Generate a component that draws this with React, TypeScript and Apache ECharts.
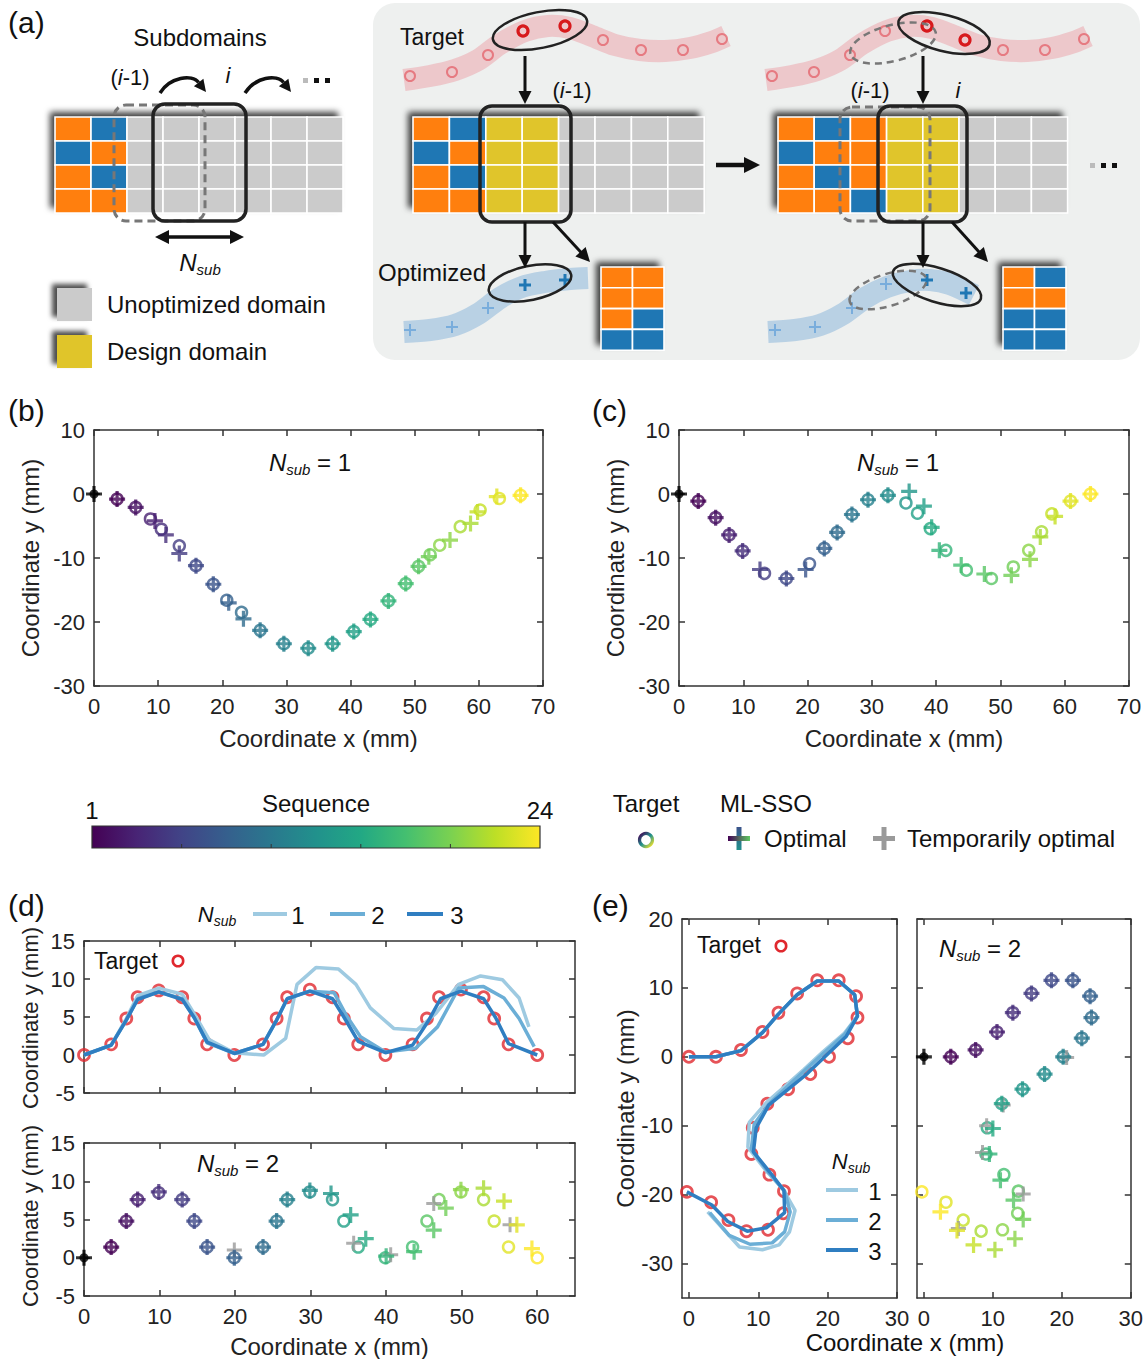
import React, { useEffect, useRef } from 'react';
import * as echarts from 'echarts';

const FONT = '"Liberation Sans", Arial, Helvetica, sans-serif';

// ---------------- DATA ----------------
// (b) N_sub = 1, first path (sequence 1..24, origin separate)
const bTargetX = [3.6, 6.5, 8.8, 10.5, 13.3, 15.9, 18.6, 20.7, 23.0, 25.9, 29.6, 33.4, 37.2, 40.5, 43.1, 45.9, 48.6, 50.6, 52.4, 53.9, 57.1, 60.2, 63.2, 66.5];
const bTargetY = [-0.8, -2.1, -3.9, -5.5, -8.1, -11.2, -14.1, -16.6, -18.5, -21.3, -23.4, -24.1, -23.4, -21.5, -19.6, -16.7, -14.0, -11.3, -9.5, -8.0, -5.1, -2.5, -0.7, -0.2];
const bOptX = [3.6, 6.5, 9.5, 11.2, 13.3, 15.9, 18.6, 21.0, 23.3, 25.9, 29.6, 33.4, 37.2, 40.5, 43.1, 45.9, 48.6, 50.6, 52.2, 55.5, 58.7, 59.8, 62.8, 66.5];
const bOptY = [-0.8, -2.1, -4.2, -6.4, -9.3, -11.2, -14.1, -17.0, -19.5, -21.3, -23.4, -24.1, -23.4, -21.5, -19.6, -16.7, -14.0, -11.3, -9.8, -7.2, -4.6, -2.8, -0.4, -0.2];

// (c) N_sub = 1, second path
const cTargetX = [3.0, 5.7, 7.8, 9.9, 13.3, 16.7, 20.3, 22.6, 24.6, 26.9, 29.4, 32.5, 35.3, 37.1, 39.1, 41.5, 44.7, 48.6, 52.0, 54.4, 56.4, 58.0, 60.9, 64.0];
const cTargetY = [-1.1, -3.7, -6.4, -8.9, -12.4, -13.2, -10.9, -8.5, -6.0, -3.2, -0.9, -0.2, -1.4, -3.0, -5.4, -8.8, -11.9, -13.2, -11.4, -8.8, -5.9, -3.1, -1.1, 0];
const cOptX = [3.0, 5.7, 7.8, 9.9, 12.6, 16.7, 19.7, 22.6, 24.6, 26.9, 29.4, 32.5, 35.8, 38.1, 39.3, 40.5, 43.9, 47.5, 51.7, 54.6, 56.2, 58.5, 60.9, 64.0];
const cOptY = [-1.1, -3.7, -6.4, -8.9, -11.8, -13.2, -11.8, -8.5, -6.0, -3.2, -0.9, -0.2, 0.4, -1.9, -5.2, -8.8, -11.1, -12.5, -12.7, -10.2, -6.7, -3.5, -1.1, 0];

// (d) target (origin included)
const dTargetX = [0, 3.6, 5.6, 7.1, 9.9, 13.0, 14.6, 16.3, 19.9, 23.7, 25.5, 26.9, 29.9, 32.9, 34.4, 36.3, 39.9, 43.5, 45.4, 47.0, 49.9, 52.9, 54.3, 56.2, 60];
const dTargetY = [0, 1.4, 4.8, 7.6, 8.5, 7.6, 4.8, 1.4, 0, 1.4, 4.8, 7.6, 8.6, 7.6, 4.8, 1.4, 0, 1.4, 4.8, 7.6, 8.6, 7.6, 4.8, 1.4, 0];
const dSub1X = [0, 3.6, 5.6, 7.1, 9.9, 13.0, 14.6, 16.6, 19.9, 23.8, 26.7, 28.2, 30.7, 33.7, 36.0, 37.9, 41.0, 44.1, 46.6, 49.6, 52.5, 55.4, 57.6, 58.9];
const dSub1Y = [0, 1.3, 4.8, 7.8, 8.8, 8.0, 5.4, 2.0, 0.3, 0.0, 2.2, 9.3, 11.5, 11.3, 9.3, 6.2, 3.5, 3.3, 5.5, 9.3, 10.4, 9.9, 7.5, 3.7];
const dSub2X = [0, 3.6, 5.6, 7.1, 9.9, 13.0, 14.6, 16.3, 19.9, 23.7, 25.5, 26.9, 29.9, 33.1, 34.8, 36.6, 39.9, 43.9, 46.8, 49.6, 52.9, 55.6, 57.6, 59.6];
const dSub2Y = [0, 1.3, 4.6, 7.4, 8.3, 7.4, 4.9, 1.6, 0.2, 1.4, 4.6, 7.4, 8.4, 8.2, 5.1, 2.4, 0.4, 0.9, 3.7, 8.8, 9.0, 7.5, 4.8, 1.1];
const dSub3X = [0, 3.6, 5.6, 7.1, 9.9, 13.0, 14.6, 16.3, 19.9, 23.7, 25.5, 26.9, 29.9, 32.9, 34.4, 36.3, 39.9, 43.5, 45.6, 47.2, 49.9, 52.9, 54.5, 56.2, 60];
const dSub3Y = [0, 1.3, 4.6, 7.3, 8.3, 7.3, 4.9, 1.7, 0.2, 1.4, 4.6, 7.4, 8.4, 7.4, 5.0, 1.8, 0.3, 1.3, 4.5, 7.4, 8.4, 7.4, 4.9, 1.5, 0];
const dOptX = [3.6, 5.6, 7.1, 9.9, 13.0, 14.6, 16.3, 19.9, 23.7, 25.5, 26.9, 29.9, 32.7, 35.3, 37.3, 40.0, 43.7, 46.3, 47.9, 49.9, 52.9, 55.6, 57.3, 59.3];
const dOptY = [1.4, 4.8, 7.6, 8.6, 7.6, 4.8, 1.4, 0, 1.4, 4.8, 7.6, 8.8, 8.4, 5.6, 2.5, 0.2, 0.8, 3.6, 6.5, 8.9, 9.1, 7.4, 4.3, 1.2];
const dTempX = [19.9, 35.7, 40.6, 46.3, 56.4];
const dTempY = [1.0, 1.9, 0.4, 7.1, 4.3];

// (e) target (origin included)
const eTargetX = [0, 3.9, 7.5, 10.6, 12.9, 15.6, 18.5, 21.6, 24.1, 24.3, 22.9, 20.2, 17.5, 14.3, 11.3, 9.2, 9.0, 11.6, 13.7, 13.6, 11.4, 8.3, 5.7, 3.2, -0.3];
const eTargetY = [0, 0, 1.0, 3.6, 6.4, 9.2, 11.1, 11.1, 8.8, 5.7, 2.7, 0, -2.5, -4.7, -6.8, -10.3, -14.1, -17.1, -19.5, -22.7, -25.1, -25.3, -23.7, -21.1, -19.6];
const eSub1X = [0, 3.9, 7.5, 10.6, 12.9, 15.6, 18.5, 21.6, 23.9, 24.3, 22.4, 19.4, 16.6, 13.8, 11.2, 8.7, 8.5, 11.1, 13.5, 15.3, 14.5, 13.0, 10.6, 7.3, 2.7];
const eSub1Y = [0, 0, 0.9, 3.5, 6.2, 9.0, 11.0, 11.0, 9.0, 5.9, 3.4, 0.8, -1.8, -4.3, -6.6, -9.5, -13.1, -16.5, -19.1, -22.3, -25.4, -27.3, -28.0, -27.6, -22.5];
const eSub2X = [0, 3.9, 7.5, 10.6, 12.9, 15.6, 18.5, 21.6, 23.9, 24.3, 22.5, 19.6, 16.8, 14.0, 11.5, 9.4, 9.0, 11.5, 13.8, 14.6, 13.8, 12.0, 8.8, 5.8, 3.0];
const eSub2Y = [0, 0, 0.9, 3.5, 6.2, 9.0, 11.0, 11.0, 9.0, 5.9, 3.3, 0.7, -1.9, -4.5, -6.9, -9.8, -13.4, -16.8, -19.5, -22.5, -25.4, -27.0, -27.2, -25.9, -22.6];
const eSub3X = [0, 3.9, 7.5, 10.6, 12.9, 15.6, 18.5, 21.6, 23.9, 24.3, 22.7, 19.9, 17.1, 14.2, 11.5, 9.7, 9.3, 11.8, 13.7, 13.8, 11.2, 8.4, 5.6, 3.3, -0.3];
const eSub3Y = [0, 0, 0.9, 3.5, 6.2, 9.0, 11.0, 11.0, 9.0, 5.9, 3.0, 0.3, -2.4, -4.8, -7.0, -10.3, -13.8, -16.9, -19.4, -22.6, -24.8, -25.3, -23.9, -21.5, -19.6];
const eOptX = [3.9, 7.5, 10.6, 12.9, 15.6, 18.5, 21.6, 24.1, 24.3, 22.9, 20.2, 17.5, 14.3, 11.3, 10.0, 9.5, 11.1, 13.0, 14.4, 13.2, 10.3, 7.2, 4.8, 2.4];
const eOptY = [0, 1.0, 3.6, 6.4, 9.2, 11.1, 11.1, 8.8, 5.7, 2.7, 0, -2.5, -4.7, -6.8, -10.4, -14.1, -17.9, -20.8, -23.6, -26.4, -28.0, -27.3, -25.2, -22.5];
const eTempX = [20.7, 9.1, 8.5, 14.4, 5.0, 11.5];
const eTempY = [-0.1, -10.0, -13.9, -19.9, -24.9, -7.0];

// tick labels
const ticksX70 = [0, 10, 20, 30, 40, 50, 60, 70];
const ticksY30 = [-30, -20, -10, 0, 10];
const ticksX60 = [0, 10, 20, 30, 40, 50, 60];
const ticksY15 = [-5, 0, 5, 10, 15];
const ticksX30 = [0, 10, 20, 30];
const ticksY20 = [-30, -20, -10, 0, 10, 20];
const seqRange = ['1', '24'];
const subLabels = ['1', '2', '3'];

// ---------------- STYLE ----------------
const VIR = ['#440154', '#482475', '#414487', '#355f8d', '#2a788e', '#21918c', '#22a884', '#44bf70', '#7ad151', '#bddf26', '#fde725'];
const SUB_COLORS = ['#9ecae1', '#6baed6', '#2f7ec1'];
const RED = '#e0282e';
const GRAYP = '#9a9a9a';
const PLUS = 'path://M4,0H6V4H10V6H6V10H4V6H0V4H4Z';
const O = '#ff7f0e', B = '#1f77b4', G = '#cbcbcb', Y = '#e0c52b';

function hexToRgb(h: string) {
  const n = parseInt(h.slice(1), 16);
  return [(n >> 16) & 255, (n >> 8) & 255, n & 255];
}
function viridis(t: number) {
  const n = VIR.length - 1;
  const f = Math.max(0, Math.min(1, t)) * n;
  const i = Math.min(Math.floor(f), n - 1);
  const u = f - i;
  const a = hexToRgb(VIR[i]), b = hexToRgb(VIR[i + 1]);
  const c = a.map((v, k) => Math.round(v + (b[k] - v) * u));
  return `rgb(${c[0]},${c[1]},${c[2]})`;
}
const seqColor = (k: number) => viridis((k - 1) / 23);

// ---------------- HELPERS ----------------
function ringSeries(g: number, xs: number[], ys: number[], colorFn: (i: number) => string, size = 10, width = 2.5, z = 3) {
  return {
    type: 'scatter', xAxisIndex: 2 * g, yAxisIndex: 2 * g, symbol: 'circle', symbolSize: size, clip: false, silent: true, z,
    data: xs.map((x, i) => ({ value: [x, ys[i]], itemStyle: { color: 'rgba(255,255,255,0)', borderColor: colorFn(i), borderWidth: width } })),
  };
}
function plusSeries(g: number, xs: number[], ys: number[], colorFn: (i: number) => string, size = 15, z = 4) {
  return {
    type: 'scatter', xAxisIndex: 2 * g, yAxisIndex: 2 * g, symbol: PLUS, symbolSize: size, clip: false, silent: true, z,
    data: xs.map((x, i) => ({ value: [x, ys[i]], itemStyle: { color: colorFn(i) } })),
  };
}
function lineSeries(g: number, xs: number[], ys: number[], color: string, width = 3.5, z = 5) {
  return {
    type: 'line', xAxisIndex: 2 * g, yAxisIndex: 2 * g, showSymbol: false, silent: true, z, clip: false,
    lineStyle: { color, width }, data: xs.map((x, i) => [x, ys[i]]),
  };
}
function originSeries(g: number) {
  return [
    { type: 'scatter', xAxisIndex: 2 * g, yAxisIndex: 2 * g, symbol: 'circle', symbolSize: 9, clip: false, silent: true, z: 6, itemStyle: { color: '#000' }, data: [[0, 0]] },
    { type: 'scatter', xAxisIndex: 2 * g, yAxisIndex: 2 * g, symbol: PLUS, symbolSize: 16, clip: false, silent: true, z: 6, itemStyle: { color: '#000' }, data: [[0, 0]] },
  ];
}

function txt(x: number, y: number, text: string, size = 24, align = 'left', extra: any = {}) {
  return { type: 'text', x, y, silent: true, style: { text, fontSize: size, fontFamily: FONT, fill: '#111', align, verticalAlign: 'middle', ...extra } };
}
function vtxt(x: number, y: number, text: string, size = 24) {
  return { type: 'text', x, y, rotation: Math.PI / 2, silent: true, style: { text, fontSize: size, fontFamily: FONT, fill: '#222', align: 'center', verticalAlign: 'middle' } };
}
function nsub(x: number, y: number, suffix: string, size = 24, align = 'center') {
  const rich: any = {
    n: { fontSize: size, fontStyle: 'italic', fontFamily: FONT, fill: '#111', lineHeight: size * 1.25, verticalAlign: 'middle' },
    s: { fontSize: Math.round(size * 0.64), fontStyle: 'italic', fontFamily: FONT, fill: '#111', lineHeight: Math.round(size * 0.7), verticalAlign: 'bottom' },
    t: { fontSize: size, fontFamily: FONT, fill: '#111', lineHeight: size * 1.25, verticalAlign: 'middle' },
  };
  return { type: 'text', x, y, silent: true, style: { text: '{n|N}{s|sub}' + (suffix ? '{t|' + suffix + '}' : ''), rich, align, verticalAlign: 'middle', fontFamily: FONT, fontSize: size } };
}
function iLabel(x: number, y: number, withParen: boolean, size = 22) {
  const rich: any = {
    p: { fontSize: size, fontFamily: FONT, fill: '#111' },
    i: { fontSize: size, fontFamily: FONT, fill: '#111', fontStyle: 'italic' },
  };
  return { type: 'text', x, y, silent: true, style: { text: withParen ? '{p|(}{i|i}{p|-1)}' : '{i|i}', rich, align: 'center', verticalAlign: 'middle', fontSize: size, fontFamily: FONT } };
}
function head(x2: number, y2: number, a: number, h = 13, color = '#111') {
  const hx = x2 - h * Math.cos(a), hy = y2 - h * Math.sin(a);
  const s = h * 0.5;
  return { type: 'polygon', silent: true, shape: { points: [[x2, y2], [hx + s * Math.sin(a), hy - s * Math.cos(a)], [hx - s * Math.sin(a), hy + s * Math.cos(a)]] }, style: { fill: color } };
}
function arrow(x1: number, y1: number, x2: number, y2: number, w = 3, h = 13, color = '#111') {
  const a = Math.atan2(y2 - y1, x2 - x1);
  const hx = x2 - h * Math.cos(a), hy = y2 - h * Math.sin(a);
  return [
    { type: 'line', silent: true, shape: { x1, y1, x2: hx + Math.cos(a) * 2, y2: hy + Math.sin(a) * 2 }, style: { stroke: color, lineWidth: w } },
    head(x2, y2, a, h, color),
  ];
}
function doubleArrow(x1: number, x2: number, y: number, w = 3.5, h = 14) {
  return [
    { type: 'line', silent: true, shape: { x1: x1 + h - 2, y1: y, x2: x2 - h + 2, y2: y }, style: { stroke: '#111', lineWidth: w } },
    head(x2, y, 0, h),
    head(x1, y, Math.PI, h),
  ];
}
function curvedArrow(x1: number, y1: number, x2: number, y2: number) {
  const cp1 = [x1 + 10, y1 - 16], cp2 = [x2 - 14, y2 - 18];
  const a = Math.atan2(y2 - cp2[1], x2 - cp2[0]);
  const h = 12;
  const hx = x2 - h * Math.cos(a), hy = y2 - h * Math.sin(a);
  return [
    { type: 'bezierCurve', silent: true, shape: { x1, y1, x2: hx, y2: hy, cpx1: cp1[0], cpy1: cp1[1], cpx2: cp2[0], cpy2: cp2[1] }, style: { stroke: '#111', lineWidth: 3.5, fill: 'none' } },
    head(x2, y2, a, h),
  ];
}
function cellGrid(x0: number, y0: number, cols: string[][], cw: number, ch: number) {
  const els: any[] = [];
  const w = cols.length * cw, h = cols[0].length * ch;
  els.push({ type: 'rect', silent: true, shape: { x: x0, y: y0, width: w, height: h }, style: { fill: '#666', shadowBlur: 6, shadowColor: 'rgba(0,0,0,0.75)', shadowOffsetX: -5, shadowOffsetY: -5 } });
  cols.forEach((col, ci) => col.forEach((c, ri) => {
    els.push({ type: 'rect', silent: true, shape: { x: x0 + ci * cw, y: y0 + ri * ch, width: cw, height: ch }, style: { fill: c, stroke: '#fff', lineWidth: 1.6 } });
  }));
  return els;
}
function rrect(x: number, y: number, w: number, h: number, dashed: boolean) {
  return { type: 'rect', silent: true, shape: { x, y, width: w, height: h, r: 12 }, style: dashed ? { fill: 'none', stroke: '#777', lineWidth: 3, lineDash: [8, 5] } : { fill: 'none', stroke: '#222', lineWidth: 3.5 } };
}
function ell(cx: number, cy: number, rx: number, ry: number, rot: number, dashed: boolean) {
  return { type: 'ellipse', silent: true, x: cx, y: cy, rotation: rot, shape: { cx: 0, cy: 0, rx, ry }, style: dashed ? { fill: 'none', stroke: '#777', lineWidth: 2.5, lineDash: [7, 5] } : { fill: 'none', stroke: '#222', lineWidth: 2.5 } };
}
function gplus(x: number, y: number, s: number, color: string, w = 2.5) {
  return [
    { type: 'line', silent: true, shape: { x1: x - s, y1: y, x2: x + s, y2: y }, style: { stroke: color, lineWidth: w } },
    { type: 'line', silent: true, shape: { x1: x, y1: y - s, x2: x, y2: y + s }, style: { stroke: color, lineWidth: w } },
  ];
}
function dots(x: number, y: number) {
  return [0, 1, 2].map((k) => ({ type: 'rect', silent: true, shape: { x: x + k * 11, y: y - 2, width: 5, height: 5 }, style: { fill: k === 0 ? '#bbb' : '#111' } }));
}

function buildGraphic() {
  const els: any[] = [];
  const G4 = [G, G, G, G], Y4 = [Y, Y, Y, Y];
  // ---- panel (a), left
  els.push(txt(8, 22, '(a)', 30));
  els.push(txt(200, 37, 'Subdomains', 24, 'center'));
  els.push(iLabel(130, 77, true));
  els.push(iLabel(228, 75, false));
  els.push(...curvedArrow(160, 93, 206, 92));
  els.push(...curvedArrow(245, 93, 291, 92));
  els.push(...dots(303, 80));
  els.push(...cellGrid(55, 117, [[O, B, O, O], [B, O, B, O], G4, G4, G4, G4, G4, G4], 36, 24));
  els.push(rrect(114, 105, 91, 116, true));
  els.push(rrect(153, 104, 93, 117, false));
  els.push(...doubleArrow(155, 244, 237));
  els.push(nsub(200, 262, '', 24));
  els.push({ type: 'rect', silent: true, shape: { x: 57, y: 288, width: 35, height: 33 }, style: { fill: G, shadowBlur: 5, shadowColor: 'rgba(0,0,0,0.7)', shadowOffsetX: -5, shadowOffsetY: -4 } });
  els.push({ type: 'rect', silent: true, shape: { x: 57, y: 335, width: 35, height: 33 }, style: { fill: Y, shadowBlur: 5, shadowColor: 'rgba(0,0,0,0.7)', shadowOffsetX: -5, shadowOffsetY: -4 } });
  els.push(txt(107, 304, 'Unoptimized domain', 24));
  els.push(txt(107, 351, 'Design domain', 24));

  // ---- panel (a), right
  els.push({ type: 'rect', silent: true, shape: { x: 373, y: 3, width: 767, height: 357, r: 22 }, style: { fill: '#eef0ef' } });
  els.push(txt(400, 37, 'Target', 23));
  els.push(txt(378, 272, 'Optimized', 24));
  const pink = [[404, 80], [430, 76], [455, 70], [478, 60], [500, 44], [525, 31], [548, 26], [570, 28], [592, 36], [615, 45], [640, 50], [665, 51], [690, 48], [712, 42], [726, 36]];
  const pinkC = [[410, 76], [452, 72], [488, 55], [523, 31], [565, 26], [603, 40], [641, 50], [683, 50], [722, 39]];
  const blue1 = [[404, 332], [430, 330], [455, 325], [478, 314], [500, 298], [522, 287], [545, 282], [570, 279], [588, 278]];
  const blue2 = [[768, 332], [795, 330], [820, 325], [843, 314], [865, 298], [887, 287], [910, 281], [930, 280], [950, 284], [974, 295]];
  [0, 362].forEach((dx, k) => {
    els.push({ type: 'polyline', silent: true, shape: { points: pink.map((p) => [p[0] + dx, p[1]]), smooth: 0.3 }, style: { stroke: 'rgba(236,150,160,0.45)', lineWidth: 22, fill: 'none' } });
    pinkC.forEach((p, i) => {
      const bold = k === 0 ? (i === 3 || i === 4) : (i === 4 || i === 5);
      els.push({ type: 'circle', silent: true, shape: { cx: p[0] + dx, cy: p[1], r: 5 }, style: { fill: 'none', stroke: bold ? '#d7191c' : 'rgba(225,70,80,0.6)', lineWidth: bold ? 3.2 : 2 } });
    });
  });
  els.push(ell(540, 30, 48, 18, 0.2, false));
  els.push(ell(893, 43, 44, 18, 0.25, true));
  els.push(ell(944, 33, 47, 18, -0.25, false));
  els.push({ type: 'polyline', silent: true, shape: { points: blue1, smooth: 0.3 }, style: { stroke: 'rgba(120,170,215,0.45)', lineWidth: 22, fill: 'none' } });
  els.push({ type: 'polyline', silent: true, shape: { points: blue2, smooth: 0.3 }, style: { stroke: 'rgba(120,170,215,0.45)', lineWidth: 22, fill: 'none' } });
  [[410, 330], [452, 327], [488, 308], [775, 330], [815, 327], [852, 308], [886, 284]].forEach((p) => els.push(...gplus(p[0], p[1], 6, '#79addc', 2)));
  [[525, 285], [565, 280], [927, 280], [966, 293]].forEach((p) => els.push(...gplus(p[0], p[1], 6, '#1f77b4', 3)));
  els.push(ell(530, 283, 42, 17, 0.2, false));
  els.push(ell(888, 290, 40, 16, 0.3, true));
  els.push(ell(937, 285, 46, 17, -0.3, false));
  // arrows
  els.push(...arrow(525, 56, 525, 104, 3, 13));
  els.push(...arrow(923, 56, 923, 104, 3, 13));
  els.push(iLabel(572, 90, true));
  els.push(iLabel(870, 90, true));
  els.push(iLabel(958, 90, false));
  // grids
  els.push(...cellGrid(413, 117, [[O, B, O, O], [B, O, B, O], Y4, Y4, G4, G4, G4, G4], 36.4, 24));
  els.push(rrect(480, 106, 91, 116, false));
  els.push(...cellGrid(778, 117, [[O, B, O, O], [B, O, B, O], [O, O, O, B], Y4, Y4, G4, G4, G4], 36.2, 24));
  els.push(rrect(840, 107, 90, 114, true));
  els.push(rrect(878, 106, 89, 116, false));
  els.push(...arrow(525, 222, 525, 268, 3, 13));
  els.push(...arrow(553, 222, 590, 262, 3, 14));
  els.push(...arrow(923, 222, 923, 268, 3, 13));
  els.push(...arrow(952, 222, 988, 262, 3, 14));
  els.push(...arrow(716, 165, 760, 165, 4.5, 16));
  els.push(...cellGrid(601, 267, [[O, O, O, B], [O, O, B, B]], 31.5, 20.8));
  els.push(...cellGrid(1003, 267, [[O, O, B, B], [B, O, B, B]], 31.5, 20.8));
  els.push(...dots(1090, 165));

  // ---- panel labels
  els.push(txt(8, 410, '(b)', 30));
  els.push(txt(592, 410, '(c)', 30));
  els.push(txt(8, 905, '(d)', 30));
  els.push(txt(592, 905, '(e)', 30));
  els.push(nsub(310, 462, ' = 1', 24));
  els.push(nsub(898, 462, ' = 1', 24));
  els.push(nsub(238, 1163, ' = 2', 24));
  els.push(nsub(980, 948, ' = 2', 24));
  els.push(vtxt(30, 1018, 'Coordinate y (mm)', 22));
  els.push(vtxt(30, 1216, 'Coordinate y (mm)', 22));

  // ---- colour bar legend
  const stops = VIR.map((c, i) => ({ offset: i / (VIR.length - 1), color: c }));
  els.push({ type: 'rect', silent: true, shape: { x: 92, y: 826, width: 448, height: 22 }, style: { fill: { type: 'linear', x: 0, y: 0, x2: 1, y2: 0, colorStops: stops }, stroke: '#333', lineWidth: 1.2 } });
  [1, 2, 3, 4].forEach((k) => els.push({ type: 'line', silent: true, shape: { x1: 92 + 448 * k / 5, y1: 844, x2: 92 + 448 * k / 5, y2: 848 }, style: { stroke: '#333', lineWidth: 1 } }));
  els.push(txt(92, 810, seqRange[0], 24, 'center'));
  els.push(txt(540, 810, seqRange[1], 24, 'center'));
  els.push(txt(316, 803, 'Sequence', 24, 'center'));
  els.push(txt(646, 803, 'Target', 24, 'center'));
  els.push({ type: 'circle', silent: true, shape: { cx: 646, cy: 840, r: 6.5 }, style: { fill: 'none', lineWidth: 3.2, stroke: { type: 'linear', x: 0, y: 0, x2: 1, y2: 1, colorStops: [{ offset: 0, color: '#440154' }, { offset: 0.5, color: '#21918c' }, { offset: 1, color: '#fde725' }] } } });
  els.push(txt(720, 803, 'ML-SSO', 24));
  els.push({ type: 'rect', silent: true, shape: { x: 736.5, y: 827, width: 5, height: 23 }, style: { fill: { type: 'linear', x: 0, y: 0, x2: 0, y2: 1, colorStops: [{ offset: 0, color: '#3b528b' }, { offset: 1, color: '#21918c' }] } } });
  els.push({ type: 'rect', silent: true, shape: { x: 728, y: 836, width: 22, height: 5 }, style: { fill: { type: 'linear', x: 0, y: 0, x2: 1, y2: 0, colorStops: [{ offset: 0, color: '#440154' }, { offset: 1, color: '#5ec962' }] } } });
  els.push(txt(764, 838, 'Optimal', 24));
  els.push({ type: 'rect', silent: true, shape: { x: 881.5, y: 827, width: 5, height: 23 }, style: { fill: GRAYP } });
  els.push({ type: 'rect', silent: true, shape: { x: 873, y: 836, width: 22, height: 5 }, style: { fill: GRAYP } });
  els.push(txt(907, 838, 'Temporarily optimal', 24));

  // ---- (d) legend
  els.push(nsub(217, 914, '', 22));
  [[253, 287, 298], [330, 365, 378], [407, 443, 457]].forEach((p, i) => {
    els.push({ type: 'line', silent: true, shape: { x1: p[0], y1: 914, x2: p[1], y2: 914 }, style: { stroke: SUB_COLORS[i], lineWidth: 4 } });
    els.push(txt(p[2], 915, subLabels[i], 24, 'center'));
  });
  els.push(txt(94, 961, 'Target', 23));
  els.push({ type: 'circle', silent: true, shape: { cx: 178, cy: 961, r: 5.2 }, style: { fill: 'none', stroke: RED, lineWidth: 2.6 } });

  // ---- (e) legends
  els.push(txt(697, 945, 'Target', 23));
  els.push({ type: 'circle', silent: true, shape: { cx: 781, cy: 946, r: 5.2 }, style: { fill: 'none', stroke: RED, lineWidth: 2.6 } });
  els.push(nsub(851, 1161, '', 22));
  [1190, 1220, 1250].forEach((yy, i) => {
    els.push({ type: 'line', silent: true, shape: { x1: 826, y1: yy, x2: 858, y2: yy }, style: { stroke: SUB_COLORS[i], lineWidth: 4 } });
    els.push(txt(875, yy + 1, subLabels[i], 24, 'center'));
  });
  els.push(txt(905, 1342, 'Coordinate x (mm)', 24, 'center'));
  return els;
}

function axisPair(g: number, min: number, max: number, ticks: number[], showLabel: boolean, name: string, gap: number, isX: boolean) {
  const common: any = {
    gridIndex: g, type: 'value', min, max,
    axisLine: { show: true, onZero: false, lineStyle: { color: '#333', width: 1.5 } },
    axisTick: { show: true, inside: true, length: 6, customValues: ticks, lineStyle: { color: '#333', width: 1.5 } },
    splitLine: { show: false },
  };
  const main = {
    ...common, position: isX ? 'bottom' : 'left',
    axisLabel: { show: showLabel, customValues: ticks, fontSize: 22, color: '#222', fontFamily: FONT, margin: 9 },
    name, nameLocation: 'middle', nameGap: gap,
    nameTextStyle: { fontSize: 24, color: '#222', fontFamily: FONT },
  };
  const other = { ...common, position: isX ? 'top' : 'right', axisLabel: { show: false }, name: '' };
  return [main, other];
}

const grids = [
  { left: 94, top: 430, width: 449, height: 256 },
  { left: 679, top: 430, width: 450, height: 256 },
  { left: 84, top: 941, width: 491, height: 152 },
  { left: 84, top: 1143, width: 491, height: 153 },
  { left: 682, top: 919, width: 215, height: 379 },
  { left: 917, top: 919, width: 215, height: 379 },
];

function buildOption() {
  const YT = 'Coordinate y (mm)', XT = 'Coordinate x (mm)';
  const xAxis = [
    ...axisPair(0, 0, 70, ticksX70, true, XT, 40, true),
    ...axisPair(1, 0, 70, ticksX70, true, XT, 40, true),
    ...axisPair(2, 0, 65, ticksX60, false, '', 40, true),
    ...axisPair(3, 0, 65, ticksX60, true, XT, 38, true),
    ...axisPair(4, -1, 30, ticksX30, true, '', 40, true),
    ...axisPair(5, -1, 30, ticksX30, true, '', 40, true),
  ];
  const yAxis = [
    ...axisPair(0, -30, 10, ticksY30, true, YT, 52, false),
    ...axisPair(1, -30, 10, ticksY30, true, YT, 52, false),
    ...axisPair(2, -5, 15, ticksY15, true, '', 42, false),
    ...axisPair(3, -5, 15, ticksY15, true, '', 42, false),
    ...axisPair(4, -35, 20, ticksY20, true, YT, 44, false),
    ...axisPair(5, -35, 20, ticksY20, false, '', 44, false),
  ];
  const seq = (i: number) => seqColor(i + 1);
  const series: any[] = [
    // (b)
    ringSeries(0, bTargetX, bTargetY, seq, 11), plusSeries(0, bOptX, bOptY, seq, 16), ...originSeries(0),
    // (c)
    ringSeries(1, cTargetX, cTargetY, seq, 11), plusSeries(1, cOptX, cOptY, seq, 16), ...originSeries(1),
    // (d) top
    ringSeries(2, dTargetX, dTargetY, () => RED, 11, 2.8, 3),
    lineSeries(2, dSub1X, dSub1Y, SUB_COLORS[0], 3.5, 5),
    lineSeries(2, dSub2X, dSub2Y, SUB_COLORS[1], 3.5, 6),
    lineSeries(2, dSub3X, dSub3Y, SUB_COLORS[2], 3.5, 7),
    // (d) bottom
    ringSeries(3, dTargetX.slice(1), dTargetY.slice(1), seq, 11),
    plusSeries(3, dTempX, dTempY, () => GRAYP, 15, 3),
    plusSeries(3, dOptX, dOptY, seq, 16),
    ...originSeries(3),
    // (e) left
    ringSeries(4, eTargetX, eTargetY, () => RED, 11, 2.8, 3),
    lineSeries(4, eSub1X, eSub1Y, SUB_COLORS[0], 3.5, 5),
    lineSeries(4, eSub2X, eSub2Y, SUB_COLORS[1], 3.5, 6),
    lineSeries(4, eSub3X, eSub3Y, SUB_COLORS[2], 3.5, 7),
    // (e) right
    ringSeries(5, eTargetX.slice(1), eTargetY.slice(1), seq, 11),
    plusSeries(5, eTempX, eTempY, () => GRAYP, 15, 3),
    plusSeries(5, eOptX, eOptY, seq, 16),
    ...originSeries(5),
  ];
  return {
    animation: false,
    backgroundColor: '#fff',
    textStyle: { fontFamily: FONT },
    grid: grids,
    xAxis,
    yAxis,
    series,
    graphic: buildGraphic(),
  };
}

export default function App() {
  const ref = useRef<HTMLDivElement>(null);
  useEffect(() => {
    document.body.style.margin = '0';
    if (!ref.current) return;
    const chart = echarts.init(ref.current, undefined, { renderer: 'svg' });
    chart.setOption(buildOption() as any);
    return () => chart.dispose();
  }, []);
  return <div ref={ref} style={{ width: 1146, height: 1359 }} />;
}
